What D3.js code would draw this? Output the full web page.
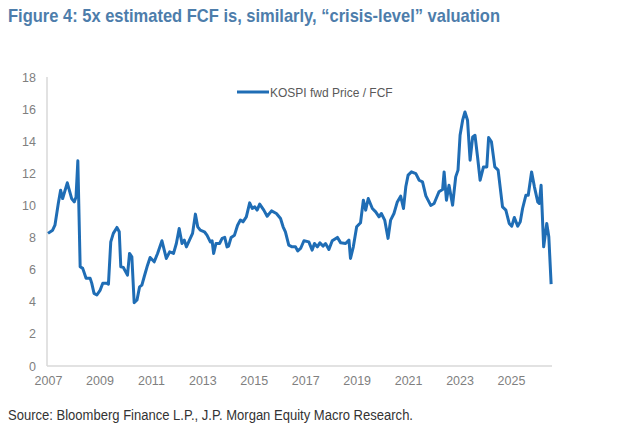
<!DOCTYPE html>
<html>
<head>
<meta charset="utf-8">
<script src="https://cdn.jsdelivr.net/npm/d3@7"></script>
<style>
  body { margin: 0; background: #fff; }
  svg { display: block; }
</style>
</head>
<body>
<div id="chart"></div>
<script>

// KOSPI fwd Price / FCF: decimal year and value
var years = [
  2007.00, 2007.18, 2007.27, 2007.40, 2007.49, 2007.57, 2007.75, 2007.92, 2008.02, 2008.09,
  2008.16, 2008.25, 2008.35, 2008.48, 2008.64, 2008.70, 2008.79, 2008.90, 2009.03, 2009.13,
  2009.29, 2009.35, 2009.44, 2009.54, 2009.68, 2009.77, 2009.83, 2009.93, 2010.09, 2010.17,
  2010.26, 2010.35, 2010.46, 2010.56, 2010.65, 2010.74, 2010.87, 2010.97, 2011.13, 2011.26,
  2011.43, 2011.60, 2011.73, 2011.88, 2011.99, 2012.10, 2012.21, 2012.30, 2012.38, 2012.50,
  2012.62, 2012.73, 2012.82, 2012.92, 2013.08, 2013.18, 2013.31, 2013.38, 2013.44, 2013.53,
  2013.67, 2013.77, 2013.87, 2013.96, 2014.02, 2014.12, 2014.25, 2014.37, 2014.48, 2014.58,
  2014.71, 2014.84, 2014.94, 2015.04, 2015.13, 2015.23, 2015.39, 2015.52, 2015.69, 2015.88,
  2016.04, 2016.14, 2016.23, 2016.36, 2016.49, 2016.62, 2016.71, 2016.82, 2016.95, 2017.14,
  2017.27, 2017.36, 2017.47, 2017.57, 2017.69, 2017.79, 2017.92, 2018.05, 2018.25, 2018.38,
  2018.57, 2018.70, 2018.76, 2018.87, 2019.00, 2019.15, 2019.26, 2019.35, 2019.45, 2019.61,
  2019.74, 2019.87, 2019.96, 2020.09, 2020.22, 2020.32, 2020.45, 2020.58, 2020.71, 2020.82,
  2020.91, 2021.00, 2021.13, 2021.30, 2021.43, 2021.56, 2021.69, 2021.88, 2022.01, 2022.20,
  2022.34, 2022.40, 2022.49, 2022.59, 2022.73, 2022.85, 2022.94, 2023.02, 2023.12, 2023.21,
  2023.31, 2023.41, 2023.51, 2023.60, 2023.70, 2023.80, 2023.93, 2024.06, 2024.13, 2024.24,
  2024.37, 2024.50, 2024.67, 2024.80, 2024.93, 2025.03, 2025.13, 2025.26, 2025.36, 2025.45,
  2025.58, 2025.67, 2025.80, 2025.91, 2026.04, 2026.10, 2026.17, 2026.27, 2026.39, 2026.47,
  2026.56
];
var pfcf = [
  8.26, 8.46, 8.77, 10.12, 10.95, 10.43, 11.41, 10.43, 10.22, 10.53,
  12.78, 6.18, 6.08, 5.46, 5.46, 5.16, 4.52, 4.42, 4.73, 5.15,
  5.15, 5.10, 7.73, 8.26, 8.63, 8.36, 6.18, 6.14, 5.66, 7.01,
  6.80, 3.94, 4.11, 4.93, 5.04, 5.56, 6.28, 6.76, 6.49, 7.01,
  7.80, 6.70, 7.11, 7.01, 7.63, 8.57, 7.63, 7.84, 7.42, 7.84,
  8.26, 9.46, 8.67, 8.46, 8.36, 8.15, 7.73, 7.80, 7.01, 7.63,
  7.63, 7.95, 8.01, 7.42, 7.47, 8.01, 8.15, 8.77, 9.09, 8.98,
  9.29, 10.16, 9.81, 9.91, 9.71, 10.08, 9.71, 9.33, 9.66, 9.50,
  9.19, 8.67, 8.36, 7.53, 7.42, 7.42, 7.17, 7.32, 7.80, 7.73,
  7.22, 7.63, 7.42, 7.67, 7.47, 7.63, 7.26, 7.80, 8.01, 7.67,
  7.63, 7.84, 6.70, 7.42, 8.67, 8.92, 10.33, 9.71, 10.43, 9.81,
  9.60, 9.29, 9.50, 9.09, 7.95, 9.09, 9.50, 10.22, 10.58, 9.81,
  11.16, 11.89, 12.09, 11.98, 11.57, 11.47, 10.60, 10.00, 10.12, 10.85,
  10.99, 12.09, 10.33, 11.26, 10.02, 11.78, 12.20, 14.37, 15.31, 15.82,
  15.31, 12.82, 14.27, 14.37, 13.02, 11.57, 12.40, 12.40, 14.23, 13.96,
  12.40, 12.20, 9.91, 9.71, 8.88, 8.71, 9.25, 8.71, 8.98, 9.81,
  10.64, 10.64, 12.09, 11.16, 10.22, 10.12, 11.26, 7.42, 8.88, 8.05,
  5.10
];

var yTicks = [0, 2, 4, 6, 8, 10, 12, 14, 16, 18];
var xTicks = [2007, 2009, 2011, 2013, 2015, 2017, 2019, 2021, 2023, 2025];

var seriesName = "KOSPI fwd Price / FCF";
var titleText = "Figure 4: 5x estimated FCF is, similarly, \u201ccrisis-level\u201d valuation";
var sourceText = "Source: Bloomberg Finance L.P., J.P. Morgan Equity Macro Research.";

var W = 640, H = 447;

var svg = d3.select("#chart")
  .append("svg")
  .attr("width", W)
  .attr("height", H);

svg.append("rect")
  .attr("width", W)
  .attr("height", H)
  .attr("fill", "#fff");

// plot area (don't call it "top", window.top is taken)
var plotL = 47, plotR = 552, plotT = 77, plotB = 366;

var x = d3.scaleLinear()
  .domain([2007, 2025])
  .range([48, 511]);

var y = d3.scaleLinear()
  .domain([0, 18])
  .range([plotB, plotT]);

// title, narrow bold look squeezed to the reference width
svg.append("text")
  .attr("x", 8)
  .attr("y", 22)
  .attr("font-family", "'Liberation Sans Narrow', 'Arial Narrow', 'Liberation Sans', sans-serif")
  .attr("font-weight", "bold")
  .attr("font-size", 19)
  .attr("fill", "#4d7dab")
  .attr("textLength", 492)
  .attr("lengthAdjust", "spacingAndGlyphs")
  .text(titleText);

// axes lines
svg.append("line")
  .attr("x1", plotL).attr("x2", plotL)
  .attr("y1", plotT).attr("y2", plotB)
  .attr("stroke", "#d9d9d9")
  .attr("stroke-width", 1.5);

svg.append("line")
  .attr("x1", plotL).attr("x2", plotR)
  .attr("y1", plotB).attr("y2", plotB)
  .attr("stroke", "#d9d9d9")
  .attr("stroke-width", 1.5);

// y axis labels
var yAxis = d3.axisLeft(y)
  .tickValues(yTicks)
  .tickSize(0)
  .tickPadding(11)
  .tickFormat(d3.format("d"));

var gy = svg.append("g")
  .attr("transform", "translate(" + plotL + ",0)")
  .call(yAxis);
gy.select(".domain").remove();
gy.selectAll("text")
  .attr("font-family", "'Liberation Sans', Arial, sans-serif")
  .attr("font-size", 12.5)
  .attr("fill", "#7f7f7f");

// x axis labels
var xAxis = d3.axisBottom(x)
  .tickValues(xTicks)
  .tickSize(0)
  .tickPadding(10)
  .tickFormat(d3.format("d"));

var gx = svg.append("g")
  .attr("transform", "translate(0," + plotB + ")")
  .call(xAxis);
gx.select(".domain").remove();
gx.selectAll("text")
  .attr("font-family", "'Liberation Sans', Arial, sans-serif")
  .attr("font-size", 12.5)
  .attr("fill", "#7f7f7f");

// the series
var pts = years.map(function(d, i) { return [d, pfcf[i]]; });

var line = d3.line()
  .x(function(d) { return x(d[0]); })
  .y(function(d) { return y(d[1]); });

svg.append("path")
  .datum(pts)
  .attr("d", line)
  .attr("fill", "none")
  .attr("stroke", "#1f6db5")
  .attr("stroke-width", 3)
  .attr("stroke-linejoin", "round");

// legend
svg.append("line")
  .attr("x1", 237).attr("x2", 269)
  .attr("y1", 92).attr("y2", 92)
  .attr("stroke", "#1f6db5")
  .attr("stroke-width", 3);

svg.append("text")
  .attr("x", 270)
  .attr("y", 96.5)
  .attr("font-family", "'Liberation Sans', Arial, sans-serif")
  .attr("font-size", 12)
  .attr("fill", "#595959")
  .text(seriesName);

// source
svg.append("text")
  .attr("x", 8)
  .attr("y", 420)
  .attr("font-family", "'Liberation Sans Narrow', 'Arial Narrow', 'Liberation Sans', sans-serif")
  .attr("font-size", 14)
  .attr("fill", "#333")
  .attr("textLength", 405)
  .attr("lengthAdjust", "spacingAndGlyphs")
  .text(sourceText);

</script>
</body>
</html>
